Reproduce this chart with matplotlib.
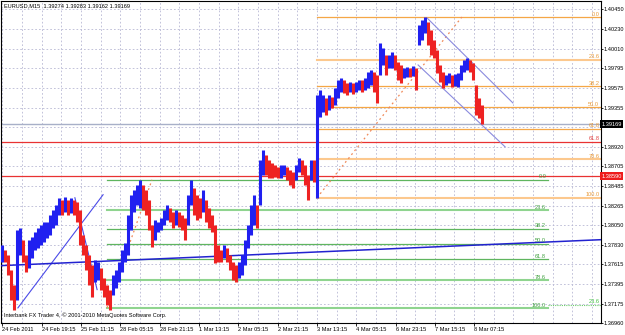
import numpy as np
import matplotlib.pyplot as plt

plt.rcParams['font.family'] = ['Liberation Sans Narrow', 'Liberation Sans', 'DejaVu Sans']

# EURUSD M15, one entry per chart column (~5 bars each)
highs = [1.37831, 1.37775, 1.37720, 1.37553, 1.37387, 1.37997, 1.38019, 1.37886, 1.37720, 1.37886,
         1.37919, 1.37975, 1.38019, 1.38053, 1.38086, 1.38086, 1.38164, 1.38219, 1.38275, 1.38352,
         1.38330, 1.38363, 1.38330, 1.38352, 1.38330, 1.38308, 1.38219, 1.37942, 1.37831, 1.37720,
         1.37609, 1.37664, 1.37642, 1.37575, 1.37464, 1.37387, 1.37331, 1.37498, 1.37553, 1.37642,
         1.37775, 1.37853, 1.38164, 1.38386, 1.38441, 1.38497, 1.38552, 1.38497, 1.38441, 1.38330,
         1.38053, 1.38108, 1.38086, 1.38130, 1.38219, 1.38275, 1.38241, 1.38197, 1.38219, 1.38197,
         1.38164, 1.38130, 1.38386, 1.38552, 1.38463, 1.38386, 1.38352, 1.38441, 1.38330, 1.38241,
         1.38164, 1.38053, 1.37831, 1.37775, 1.37831, 1.37797, 1.37720, 1.37642, 1.37609, 1.37642,
         1.37720, 1.37886, 1.38053, 1.38275, 1.38386, 1.38275, 1.38774, 1.38885, 1.38830, 1.38774,
         1.38741, 1.38719, 1.38696, 1.38719, 1.38719, 1.38696, 1.38663, 1.38641, 1.38719, 1.38796,
         1.38774, 1.38719, 1.38608, 1.38774, 1.38774, 1.39496, 1.39551, 1.39496, 1.39462, 1.39496,
         1.39473, 1.39573, 1.39662, 1.39684, 1.39662, 1.39629, 1.39640, 1.39629, 1.39640, 1.39662,
         1.39662, 1.39684, 1.39751, 1.39773, 1.39751, 1.39718, 1.40073, 1.40017, 1.39940, 1.39940,
         1.39973, 1.39940, 1.39862, 1.39829, 1.39795, 1.39806, 1.39795, 1.39817, 1.39795, 1.40273,
         1.40328, 1.40361, 1.40306, 1.40217, 1.40106, 1.39995, 1.39829, 1.39751, 1.39718, 1.39740,
         1.39718, 1.39729, 1.39740, 1.39829, 1.39884, 1.39906, 1.39884, 1.39851, 1.39607, 1.39462,
         1.39385]
lows = [1.37642, 1.37642, 1.37498, 1.37220, 1.37109, 1.37220, 1.37720, 1.37642, 1.37531, 1.37575,
        1.37686, 1.37775, 1.37797, 1.37831, 1.37864, 1.37908, 1.37942, 1.38019, 1.38053, 1.38164,
        1.38164, 1.38197, 1.38164, 1.38186, 1.38164, 1.38086, 1.37831, 1.37720, 1.37553, 1.37387,
        1.37253, 1.37420, 1.37442, 1.37331, 1.37253, 1.37165, 1.37109, 1.37276, 1.37353, 1.37420,
        1.37531, 1.37642, 1.37720, 1.37997, 1.38197, 1.38275, 1.38241, 1.38219, 1.38164, 1.37997,
        1.37808, 1.37886, 1.37975, 1.37997, 1.38053, 1.38108, 1.38086, 1.38019, 1.38053, 1.38030,
        1.37997, 1.37886, 1.38053, 1.38275, 1.38164, 1.38108, 1.38130, 1.38197, 1.38086, 1.38019,
        1.37975, 1.37631, 1.37642, 1.37642, 1.37686, 1.37642, 1.37553, 1.37442, 1.37420, 1.37464,
        1.37498, 1.37609, 1.37797, 1.37942, 1.38053, 1.38019, 1.38275, 1.38608, 1.38608, 1.38574,
        1.38574, 1.38585, 1.38574, 1.38574, 1.38608, 1.38552, 1.38497, 1.38463, 1.38552, 1.38641,
        1.38608, 1.38497, 1.38330, 1.38552, 1.38530, 1.38352, 1.39251, 1.39307, 1.39274, 1.39329,
        1.39351, 1.39385, 1.39462, 1.39529, 1.39518, 1.39496, 1.39529, 1.39507, 1.39529, 1.39551,
        1.39529, 1.39551, 1.39573, 1.39607, 1.39529, 1.39407, 1.39718, 1.39829, 1.39718, 1.39795,
        1.39795, 1.39773, 1.39662, 1.39629, 1.39684, 1.39695, 1.39695, 1.39706, 1.39551, 1.40051,
        1.40106, 1.40184, 1.40051, 1.39940, 1.39906, 1.39740, 1.39640, 1.39573, 1.39607, 1.39629,
        1.39584, 1.39595, 1.39584, 1.39662, 1.39751, 1.39773, 1.39751, 1.39662, 1.39274, 1.39240,
        1.39174]

time_labels = ['24 Feb 2011', '24 Feb 19:15', '25 Feb 11:15', '28 Feb 05:15', '28 Feb 21:15',
               '1 Mar 13:15', '2 Mar 05:15', '2 Mar 21:15', '3 Mar 13:15', '4 Mar 05:15',
               '6 Mar 23:15', '7 Mar 15:15', '8 Mar 07:15']
price_labels = ['1.40450', '1.40230', '1.40010', '1.39795', '1.39575', '1.39355', '1.39135',
                '1.38920', '1.38705', '1.38485', '1.38265', '1.38050', '1.37830', '1.37615',
                '1.37395', '1.37175', '1.36960']

last_price = 1.39169
hline_red = [1.38974, 1.38590]

# drawn objects: (column, price) anchors
trend_blue = [((5.3, 1.37128), (33.7, 1.38386)),
              ((24.3, 1.38352), (31.7, 1.37331)),
              ((-0.7, 1.37597), (199.7, 1.37886))]
channel = [((141.7, 1.40350), (170.3, 1.39406)),
           ((138.7, 1.39828), (167.7, 1.38918))]

fib_levels = [0.0, 23.6, 38.2, 50.0, 61.8, 78.6, 100.0]
fib_orange = dict(x0=105, x1=153.3, top=1.40361, bottom=1.38352, xend=199.7)
fib_green = dict(x0=35, x1=50, top=1.38552, bottom=1.37128, xend=182.0)

fig = plt.figure(figsize=(6.25, 3.35), dpi=100)
ax = fig.add_axes([1/625, 12/335, 600/625, 322/335])
ax.set_xlim(-0.33, 199.67)
ax.set_ylim(1.36961, 1.40539)

fs = 4.1
grid_c = '#b8b8d4'
# grid
grid_x = 0.113 + 6.553 * np.arange(-1, 31)
for gx in grid_x:
    ax.axvline(gx, color=grid_c, lw=0.6, ls=(0, (2, 2.5)), zorder=0)
price_vals = [float(p) for p in price_labels]
for py in price_vals:
    ax.axhline(py, color=grid_c, lw=0.6, ls=(0, (2, 2.5)), zorder=0)

# fibonacci objects
for fib, col, lab_col in [(fib_orange, '#f5a746', '#e89a3a'), (fib_green, '#5fb55f', '#3f9f3f')]:
    rng = fib['top'] - fib['bottom']
    for lv in fib_levels:
        p = fib['top'] - rng * lv / 100
        lw = 1.5 if lv in (23.6, 78.6, 100.0) else 0.9
        c = col
        if lv in (23.6, 78.6, 100.0):
            c = '#fcc88e' if col == '#f5a746' else '#8fd48f'
        ax.plot([fib['x0'], fib['xend']], [p, p], color=c, lw=lw, zorder=2)
        ax.text(fib['xend'] - 0.6, p + 0.00004, f'{lv:.1f}', color=lab_col, fontsize=fs,
                ha='right', va='bottom', zorder=6)
    ax.plot([fib['x0'], fib['x1']], [fib['bottom'], fib['top']], color='#f08a5a',
            lw=0.9, ls=(0, (1.5, 2.5)), zorder=3)

# extra green level on the right
ax.plot([182.0, 199.7], [1.37165, 1.37165], color='#6ccc6c', lw=0.8, ls=(0, (1, 1)), zorder=2)
ax.text(199.1, 1.37170, '23.6', color='#3fbf3f', fontsize=fs, ha='right', va='bottom')

# horizontal lines
ax.axhline(last_price, color='#a8b0c8', lw=1.0, zorder=2)
for p in hline_red:
    ax.axhline(p, color='#e83232', lw=0.9, zorder=2)
ax.text(199.1, hline_red[0] + 0.00004, '61.8', color='#e04040', fontsize=fs, ha='right', va='bottom')

# trend lines
for (a, b) in trend_blue[:2]:
    ax.plot([a[0], b[0]], [a[1], b[1]], color='#4a4ae8', lw=0.8, zorder=4)
a, b = trend_blue[2]
ax.plot([a[0], b[0]], [a[1], b[1]], color='#2222d0', lw=1.1, zorder=4)
for (a, b) in channel:
    ax.plot([a[0], b[0]], [a[1], b[1]], color='#8a8ade', lw=0.8, zorder=4)

# price bars
x = np.arange(len(highs))
hi = np.array(highs)
lo = np.array(lows)
mid = (hi + lo) / 2
up = np.r_[True, mid[1:] >= mid[:-1]]
colors = np.where(up, '#2020f0', '#ee2222')
ax.vlines(x, lo, hi, colors=colors, lw=2.2, zorder=5)

# axes styling
for s in ax.spines.values():
    s.set_color('black')
    s.set_linewidth(0.8)
ax.yaxis.tick_right()
ax.set_yticks(price_vals)
ylabs = [lab if lab != '1.39135' else '' for lab in price_labels]
ax.set_yticklabels(ylabs, fontsize=fs)
ax.tick_params(axis='y', length=1.5, width=0.6, pad=0.6, colors='black')
xt = grid_x[1::2][:len(time_labels)]
ax.set_xticks(xt)
ax.set_xticklabels(time_labels, fontsize=fs, ha='left')
ax.tick_params(axis='x', length=2.0, width=0.6, pad=0.8, colors='black')

tr = ax.get_yaxis_transform()
ax.text(1.001, last_price, '1.39169', transform=tr, fontsize=fs, color='white', va='center',
        ha='left', clip_on=False, bbox=dict(boxstyle='square,pad=0.25', fc='black', ec='none'), zorder=10)
ax.text(1.001, hline_red[1], '1.38590', transform=tr, fontsize=fs, color='white', va='center',
        ha='left', clip_on=False, bbox=dict(boxstyle='square,pad=0.25', fc='#ee1c1c', ec='none'), zorder=10)

ax.text(0.005, 0.993, 'EURUSD,M15  1.39274 1.39283 1.39162 1.39169', transform=ax.transAxes,
        fontsize=fs, va='top', ha='left', color='black')
ax.text(0.005, 0.014, 'Interbank FX Trader 4, \u00a9 2001-2010 MetaQuotes Software Corp.',
        transform=ax.transAxes, fontsize=fs, va='bottom', ha='left', color='black', zorder=10)

fig.savefig('out.png', dpi=100, facecolor='white')
